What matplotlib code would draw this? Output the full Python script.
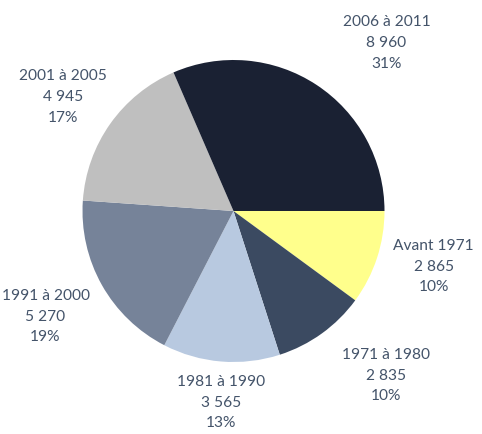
import matplotlib.pyplot as plt

categories = ['Avant 1971', '1971 à 1980', '1981 à 1990', '1991 à 2000', '2001 à 2005', '2006 à 2011']
values = [2865, 2835, 3565, 5270, 4945, 8960]
percents = [10, 10, 13, 19, 17, 31]
colors = ['#FFFF8C', '#3B4A61', '#B8C9E0', '#768399', '#BFBFBF', '#1A2133']

# label positions (in pie radius units), placed like the original
label_pos = [(1.325, -0.37), (1.013, -1.09), (-0.08, -1.27), (-1.245, -0.70), (-1.13, 0.755), (1.013, 1.113)]

fig = plt.figure(figsize=(4.82, 4.34), dpi=100)
ax = fig.add_axes([0, 0, 1, 1])
ax.pie(values, colors=colors, startangle=0, counterclock=False, radius=1,
       wedgeprops={'linewidth': 0})
ax.set_xlim(-233.5 / 151, (482 - 233.5) / 151)
ax.set_ylim(-(434 - 211) / 151, 211 / 151)
ax.set_aspect('auto')
ax.axis('off')

for cat, v, p, (x, y) in zip(categories, values, percents, label_pos):
    txt = '{}\n{}\n{}%'.format(cat, f'{v:,}'.replace(',', ' '), p)
    ax.text(x, y, txt, ha='center', va='center', fontsize=11.2, family='Lato',
            color='#44546A', linespacing=1.6)

fig.savefig('out.png', dpi=100)
